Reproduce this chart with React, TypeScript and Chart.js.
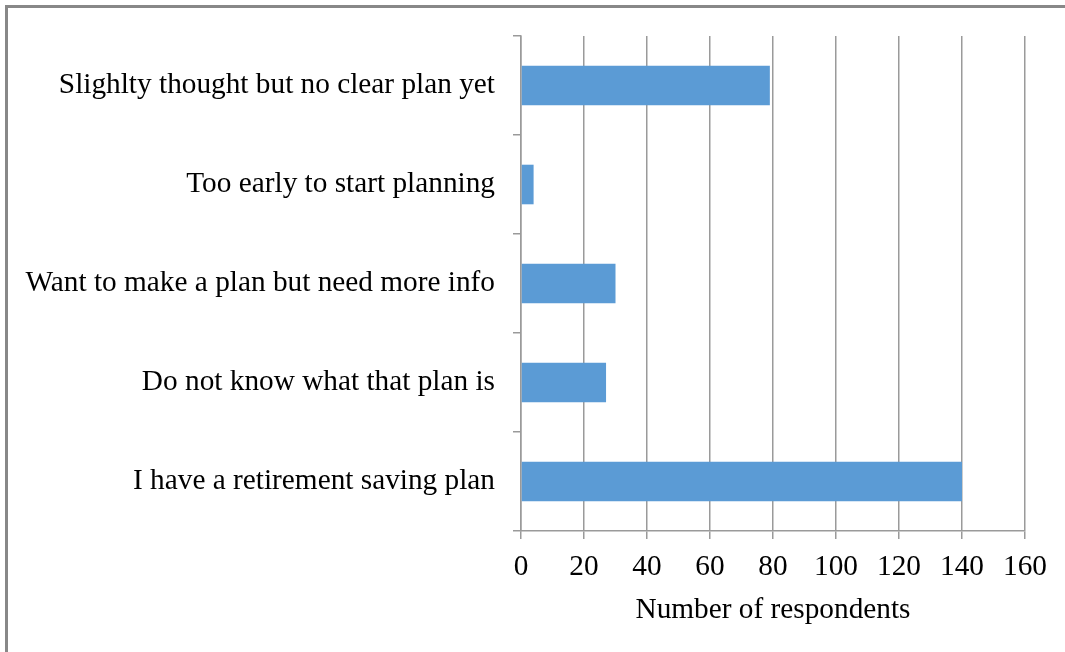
import React, { useEffect, useRef } from "react";
import { Chart, registerables } from "chart.js";

Chart.register(...registerables);

const categories: string[] = [
  "Slighlty thought but no clear plan yet",
  "Too early to start planning",
  "Want to make a plan but need more info",
  "Do not know what that plan is",
  "I have a retirement saving plan",
];
const respondents: number[] = [79, 4, 30, 27, 140];
const xTickStep = 20;
const xMin = 0;
const xMax = 160;
const xTitle = "Number of respondents";

const FONT = "'Liberation Serif', 'Times New Roman', serif";
const FS = 29.3;

export default function App() {
  const ref = useRef<HTMLCanvasElement | null>(null);

  useEffect(() => {
    if (!ref.current) return;
    const chart = new Chart(ref.current, {
      type: "bar",
      data: {
        labels: categories,
        datasets: [
          {
            data: respondents,
            backgroundColor: "#5B9BD5",
            borderWidth: 0,
            categoryPercentage: 1,
            barPercentage: 0.4,
          },
        ],
      },
      options: {
        indexAxis: "y",
        responsive: false,
        maintainAspectRatio: false,
        animation: false,
        layout: { padding: { top: 36, right: 40, bottom: 0, left: 0 } },
        plugins: {
          legend: { display: false },
          tooltip: { enabled: false },
        },
        scales: {
          x: {
            min: xMin,
            max: xMax,
            ticks: {
              stepSize: xTickStep,
              color: "#000",
              font: { family: FONT, size: FS },
              padding: 11,
            },
            grid: {
              color: "#9a9a9a",
              lineWidth: 1.5,
              drawTicks: true,
              tickLength: 8,
            },
            border: { display: true, color: "#9a9a9a", width: 1.5 },
            title: {
              display: true,
              text: xTitle,
              color: "#000",
              font: { family: FONT, size: FS },
              padding: { top: 0, bottom: 24 },
            },
            afterFit: (scale: any) => {
              scale.height = 121;
            },
          },
          y: {
            ticks: {
              color: "#000",
              font: { family: FONT, size: FS },
              padding: 18,
            },
            grid: {
              offset: true,
              drawOnChartArea: false,
              drawTicks: true,
              tickLength: 8,
              color: "#9a9a9a",
              lineWidth: 1.5,
            },
            border: { display: true, color: "#9a9a9a", width: 1.5 },
            afterFit: (scale: any) => {
              scale.width = 521;
            },
          },
        },
      },
    });
    return () => chart.destroy();
  }, []);

  return (
    <div
      style={{
        position: "fixed",
        left: 0,
        top: 0,
        width: 1065,
        height: 652,
        background: "#fff",
        overflow: "hidden",
      }}
    >
      <div
        style={{
          position: "absolute",
          left: 5,
          top: 5,
          width: 1200,
          height: 800,
          borderLeft: "3px solid #888",
          borderTop: "3px solid #888",
        }}
      />
      <canvas
        ref={ref}
        width={1065}
        height={652}
        style={{ position: "absolute", left: 0, top: 0, width: 1065, height: 652 }}
      />
    </div>
  );
}
